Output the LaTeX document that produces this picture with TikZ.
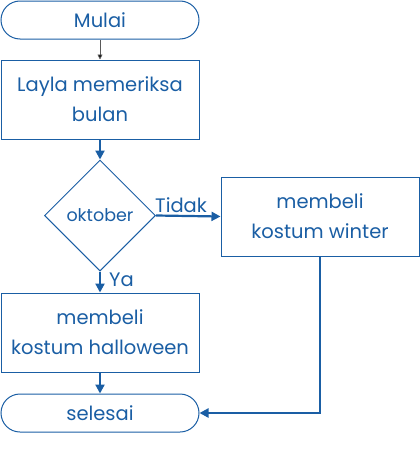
\documentclass[tikz,border=0pt]{standalone}
\usepackage{fontspec}
\setmainfont{Poppins}
\usetikzlibrary{shapes.geometric,arrows.meta}
\definecolor{fblue}{HTML}{1A5EA4}
\begin{document}
\begin{tikzpicture}[x=1pt,y=-1pt,
  every node/.style={font=\fontsize{19.5}{30}\selectfont, text=fblue, align=center},
  boxn/.style={draw=fblue, line width=1pt, minimum width=198pt, minimum height=79pt, inner sep=0pt},
  termn/.style={draw=fblue, line width=1pt, rounded corners=19pt, minimum width=198pt, minimum height=38pt, inner sep=0pt},
  decn/.style={draw=fblue, line width=1pt, diamond, minimum width=111pt, minimum height=111pt, inner sep=0pt, font=\fontsize{17.5}{20}\selectfont},
  conn/.style={draw=fblue, line width=2.2pt, -{Triangle[length=9pt,width=9pt]}},
  lbl/.style={font=\fontsize{19.5}{22}\selectfont}
]
\useasboundingbox (0,0) rectangle (420,471);
\node[termn] (start) at (100,20) {Mulai};
\node[boxn] (check) at (100,99.5) {Layla memeriksa\\bulan};
\node[decn] (dec) at (100,215.5) {oktober};
\node[boxn] (winter) at (320,216.5) {membeli\\kostum winter};
\node[boxn] (hall) at (100,332.5) {membeli\\kostum halloween};
\node[termn] (end) at (100,413) {selesai};
\draw[gray!70!black, line width=0.8pt, -{Triangle[length=5pt,width=5pt,fill=black]}] (start) -- (check);
\draw[conn] (check) -- (dec);
\draw[conn] (dec.east) -- (winter.west);
\draw[conn] (dec.south) -- (hall.north);
\draw[conn] (hall) -- (end);
\draw[conn] (winter.south) |- (end.east);
\node[lbl, anchor=south west, inner sep=1pt] (tidak) at (154,213.5) {Tidak};
\node[lbl, anchor=west, inner sep=1pt] (ya) at (108,280) {Ya};
\end{tikzpicture}
\end{document}
